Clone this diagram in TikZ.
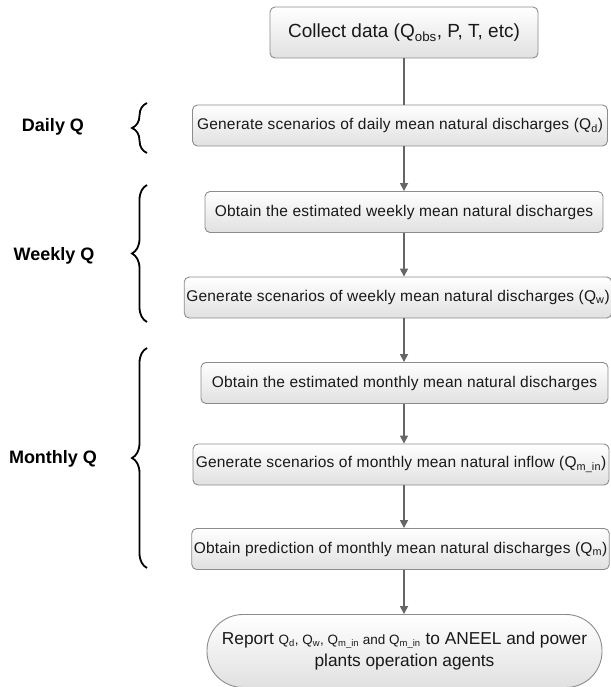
\documentclass[tikz,border=0pt]{standalone}
\usepackage{fontspec}
\setmainfont{Liberation Sans}
\newfontfamily\stagefont[LetterSpace=1.4]{Liberation Sans}
\usepackage{tikz}
\usetikzlibrary{positioning,arrows.meta,decorations.pathreplacing}
\tikzset{
  flowbox/.style={draw=black!45, rounded corners=5pt, align=center, line width=0.9pt,
    top color=white, bottom color=black!12, inner sep=2pt,
    font=\stagefont\fontsize{15.5}{18}\selectfont, text=black!90},
  flowline/.style={draw=black!60, line width=1.6pt},
  flowarrow/.style={flowline, -{Triangle[length=8pt,width=8pt]}},
  flowlabel/.style={font=\bfseries\fontsize{18}{20}\selectfont, inner sep=1pt},
  flowbrace/.style={decorate, decoration={brace, amplitude=15pt}, line width=1.8pt},
}

\begin{document}
\begin{tikzpicture}[x=1pt, y=-1pt, stage/.style={flowbox, minimum height=41pt}]
  \useasboundingbox (0,0) rectangle (610,687);
  \node[flowbox, minimum width=268pt, minimum height=51pt, font=\fontsize{19}{22}\selectfont] (collect) at (404,32.5) {Collect data (Q\textsubscript{obs}, P, T, etc)};
  \node[stage, minimum width=415pt] (dailygen) at (400,125.5) {Generate scenarios of daily mean natural discharges (Q\textsubscript{d})};
  \node[stage, minimum width=398pt] (weeklyest) at (404,212) {Obtain the estimated weekly mean natural discharges};
  \node[stage, minimum width=422pt] (weeklygen) at (398,297.5) {Generate scenarios of weekly mean natural discharges (Q\textsubscript{w})};
  \node[stage, minimum width=407pt] (monthlyest) at (404.5,383) {Obtain the estimated monthly mean natural discharges};
  \node[stage, minimum width=416pt] (monthlygen) at (401,464.5) {Generate scenarios of monthly mean natural inflow (Q\textsubscript{m\_in})};
  \node[stage, minimum width=417pt] (monthlypred) at (400.5,549) {Obtain prediction of monthly mean natural discharges (Q\textsubscript{m})};
  \node[flowbox, rounded corners=36pt, minimum width=395pt, minimum height=73pt, font=\fontsize{17.3}{22}\selectfont] (report) at (404.5,651)
    {Report {\fontsize{13.5}{18}\selectfont Q\textsubscript{d}, Q\textsubscript{w}, Q\textsubscript{m\_in} and Q\textsubscript{m\_in}} to ANEEL and power\\ plants operation agents};
  \draw[flowline] (collect.south) -- (collect.south |- dailygen.north);
  \draw[flowarrow] (collect.south |- dailygen.south) -- (collect.south |- weeklyest.north);
  \draw[flowarrow] (collect.south |- weeklyest.south) -- (collect.south |- weeklygen.north);
  \draw[flowarrow] (collect.south |- weeklygen.south) -- (collect.south |- monthlyest.north);
  \draw[flowarrow] (collect.south |- monthlyest.south) -- (collect.south |- monthlygen.north);
  \draw[flowarrow] (collect.south |- monthlygen.south) -- (collect.south |- monthlypred.north);
  \draw[flowarrow] (collect.south |- monthlypred.south) -- (collect.south |- report.north);
  % time scales
  \draw[flowbrace] (147,153) -- (147,103);
  \draw[flowbrace] (147,322) -- (147,185);
  \draw[flowbrace] (147,568) -- (147,348);
  \node[flowlabel] (dailylab) at (53,127) {Daily Q};
  \node[flowlabel] (weeklylab) at (54,256) {Weekly Q};
  \node[flowlabel] (monthlylab) at (53,459) {Monthly Q};
\end{tikzpicture}
\end{document}
